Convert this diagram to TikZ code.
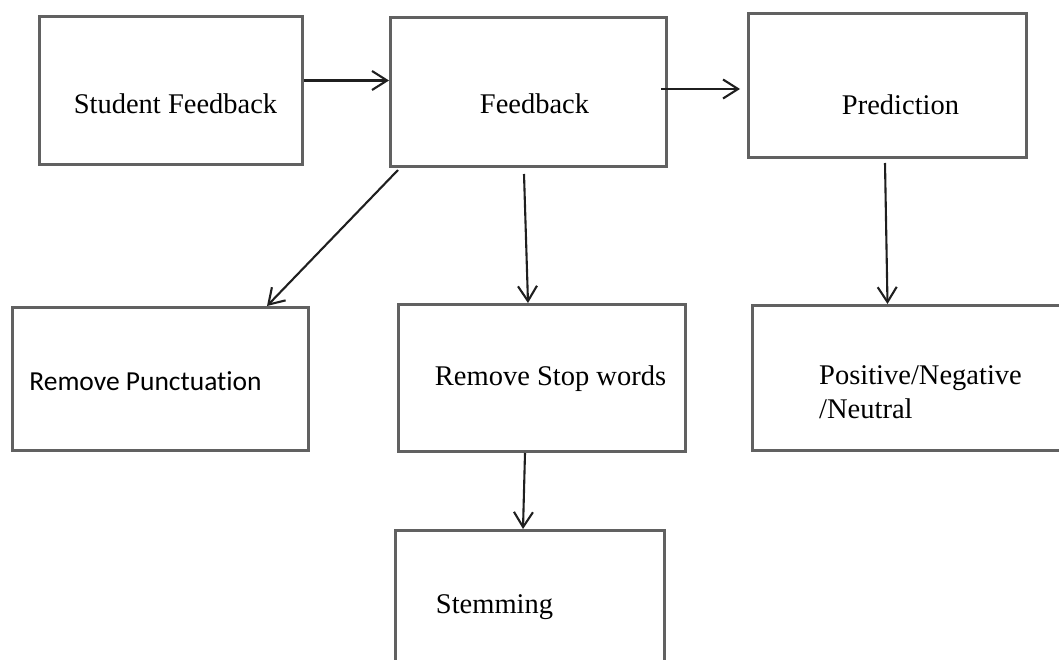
\documentclass[tikz,border=0pt]{standalone}
\usepackage{fontspec}
\setmainfont{Liberation Serif}
\newfontfamily\carlito[Ligatures=NoCommon]{Carlito}
\usetikzlibrary{arrows.meta}

\begin{document}
\begin{tikzpicture}[x=1pt,y=-1pt,>={Straight Barb[length=15pt,width=19pt]},
   box/.style={draw=black!62,line width=3pt,rectangle},
   arr/.style={->,draw=black!88,line width=2.1pt},
   every label/.style={font=\fontsize{28.5}{34}\selectfont,inner sep=0pt}]
   \useasboundingbox (0,0) rectangle (1059,660);
   \clip (0,0) rectangle (1059,660);
   % top row
   \node[box,minimum width=263pt,minimum height=148pt,
         label={[xshift=4.5pt,yshift=-13.5pt]center:Student Feedback}] (sf) at (171,90.5) {};
   \node[box,minimum width=276pt,minimum height=149pt,
         label={[xshift=6pt,yshift=-12pt]center:Feedback}] (fb) at (528.5,92) {};
   \node[box,minimum width=278pt,minimum height=144pt,
         label={[xshift=13pt,yshift=-19.5pt]center:Prediction}] (pr) at (887.5,85.5) {};
   % second row
   \node[box,minimum width=296pt,minimum height=143pt,
         label={[xshift=-15pt,yshift=-2.5pt,font=\carlito\fontsize{27.5}{33}\selectfont]center:Remove Punctuation}] (rp) at (160.5,379) {};
   \node[box,minimum width=287pt,minimum height=147pt,
         label={[xshift=8.5pt,yshift=-1pt]center:Remove Stop words}] (rs) at (542,378) {};
   \node[box,minimum width=330pt,minimum height=145pt,
         label={[xshift=3pt,yshift=-14pt,align=left]center:Positive/Negative\\/Neutral}] (pn) at (917.5,378) {};
   % last box
   \node[box,minimum width=269pt,minimum height=150pt,
         label={[xshift=-35.5pt,yshift=-1.5pt]center:Stemming}] (st) at (530,605.5) {};
   % connectors
   \draw[arr] ([yshift=10pt]sf.east) -- ([yshift=10pt]sf.east -| fb.west);
   \draw[arr] ([xshift=-7pt,yshift=3pt]fb.east) -- ([xshift=-7pt,yshift=3pt]fb.east -| pr.west);
   \draw[arr] ([xshift=9pt,yshift=-2pt]fb.south west) -- ([xshift=-43pt]rp.north east);
   \draw[arr] ([xshift=-4.5pt,yshift=-6pt]fb.south) -- ([xshift=-14pt]rs.north);
   \draw[arr] ([xshift=-2.5pt,yshift=-4pt]pr.south) -- ([xshift=136.5pt]pn.north west);
   \draw[arr] ([xshift=-17pt]rs.south) -- ([xshift=-7pt]st.north);
\end{tikzpicture}
\end{document}
